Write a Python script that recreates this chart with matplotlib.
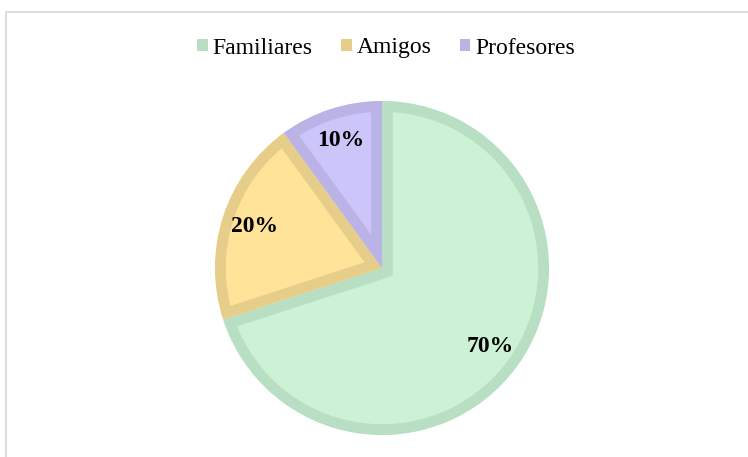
import matplotlib
matplotlib.use('Agg')
import matplotlib.pyplot as plt
from matplotlib.patches import Rectangle, Patch

# data
labels = ['Familiares', 'Amigos', 'Profesores']
values = [70, 20, 10]
fill_cols = ['#CCF2D5', '#FFE399', '#CCC5FA']
edge_cols = ['#B8DFC3', '#E6CD8A', '#BBB3E6']

plt.rcParams['font.family'] = ['Liberation Serif', 'DejaVu Serif']

W, H = 748, 457
fig = plt.figure(figsize=(W/100, H/100), dpi=100)

# pie centre / outer radius in pixels
cx, cy, r = 382, 268, 167
ax = fig.add_axes([(cx-r)/W, (H-cy-r)/H, 2*r/W, 2*r/H])
ax.set_xlim(-1, 1)
ax.set_ylim(-1, 1)
wedges, texts, autotexts = ax.pie(values, colors=fill_cols, startangle=90, counterclock=False,
                                  autopct='%d%%', pctdistance=0.8, radius=1.0, frame=True,
                                  wedgeprops=dict(linewidth=15.5, joinstyle='miter'))
# border drawn inside each slice only (stroke clipped to its own wedge)
for w, ec in zip(wedges, edge_cols):
    w.set_edgecolor(ec)
    w.set_clip_on(True)
    w.set_clip_path(w.get_path(), ax.transData)
for t in autotexts:
    t.set_fontsize(17)
    t.set_fontweight('bold')
    t.set_color('black')
ax.set_xlim(-1, 1)
ax.set_ylim(-1, 1)
ax.set_aspect('equal')
ax.axis('off')

# legend on top
handles = [Patch(facecolor=c, edgecolor='none') for c in edge_cols]
fig.legend(handles, labels, loc='center', bbox_to_anchor=(386/W, 1-48/H), ncol=3,
           frameon=False, fontsize=17, handlelength=0.45, handleheight=0.45,
           handletextpad=0.2, columnspacing=1.2)

# chart border (only top and left visible)
fig.patches.append(Rectangle((6/W, -0.1), 2, (H-12.5)/H + 0.1, transform=fig.transFigure,
                             fill=False, edgecolor='#D9D9D9', linewidth=1.3))

fig.savefig('out.png', dpi=100, facecolor='white')
